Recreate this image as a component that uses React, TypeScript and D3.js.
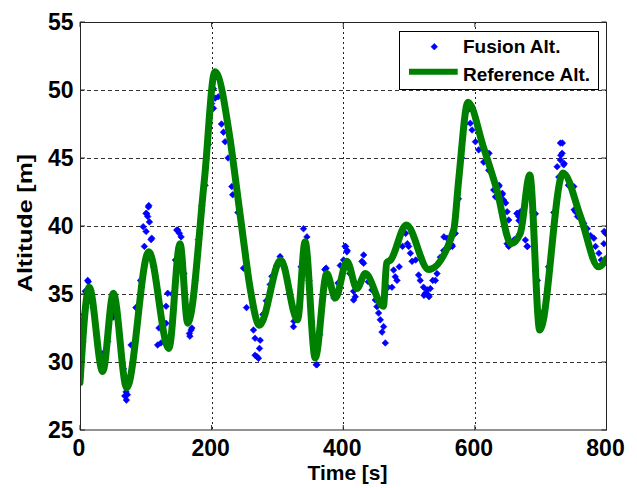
import React from "react";
import * as d3 from "d3";

const xTicks = [0, 200, 400, 600, 800];
const yTicks = [25, 30, 35, 40, 45, 50, 55];

// Reference altitude (time s, altitude m)
const refTime = [0, 14, 34.5, 50.7, 71, 104.5, 135, 152, 163.7, 189, 205, 228, 238, 248, 258.6, 272.7, 305, 330.5, 342, 357.4, 375, 388, 405.6, 420.8, 433.5, 461, 466, 472, 495.8, 529.8, 567.8, 575.4, 589.6, 613, 633.7, 655, 669, 683.4, 698.6, 734, 760.5, 788, 800];
const refAlt = [28.5, 35.5, 29.3, 35.05, 28.1, 38.1, 31.0, 38.7, 32.85, 43.4, 51.35, 46.4, 42.8, 39.1, 35.4, 32.7, 37.5, 33.1, 38.85, 30.3, 36.5, 34.7, 37.4, 35.4, 36.5, 34.1, 37.3, 37.5, 40.07, 36.8, 39.7, 43.4, 49.1, 45.8, 42.6, 38.7, 39.46, 43.75, 32.35, 43.9, 40.7, 37.0, 37.6];

// Fusion altitude samples (time s, altitude m)
const fusionTime = [0, 2.5, 4, 6, 8, 11.7, 12.7, 16, 20, 25, 30, 34.5, 37, 42, 46, 49.7, 50.5, 48, 55, 60, 66, 70, 70.5, 68, 72, 77.6, 85, 92, 96, 97.8, 100.4, 101.4, 102.9, 104, 105.5, 100.4, 104.5, 108, 109, 112, 118, 123, 120, 130.8, 130.8, 133.3, 140, 145, 147, 148.6, 151, 153.6, 158, 166.3, 168.8, 167, 170, 175, 180, 185, 190, 195, 200, 202.8, 205.3, 202.8, 210, 215, 218, 220.5, 225, 230.7, 232, 240, 248.4, 253, 263.6, 266, 273.8, 272.7, 268.7, 271.2, 266, 278, 283, 289, 291.5, 299, 304, 310, 318, 324.4, 325, 332, 336, 339.6, 344.8, 348, 352, 359, 360, 364, 368, 372, 374, 380, 386, 392, 395.4, 400.5, 403, 405.6, 406, 403.5, 410, 415.7, 418.3, 415.7, 422, 428.4, 431, 431, 438, 443.6, 448.7, 451.2, 453.7, 456.3, 461.3, 458.9, 463.9, 468, 474, 476.5, 479, 481.7, 485, 490, 494.8, 497.4, 499.4, 502, 504.5, 510, 514.5, 517, 522, 522.7, 524.7, 527.7, 529.7, 530.3, 532.3, 536, 540, 542.5, 547.5, 552.6, 553, 557.7, 560.8, 563, 565.3, 565.8, 570.3, 575, 580, 585, 589, 593, 595.7, 600.8, 605.8, 613.4, 618.5, 621, 621.6, 628.6, 631.2, 636.2, 636.8, 641.4, 641.8, 643.8, 646.8, 649, 651.4, 649, 651.4, 660, 664, 664.6, 666.5, 667, 669, 676.8, 679.4, 680, 684, 688, 692, 695, 702, 705, 712, 720, 725, 727.5, 730, 733, 732.6, 730, 730.5, 735, 735.6, 742, 750.3, 750.9, 752.9, 755.9, 758, 765.5, 770.6, 775.7, 780.8, 783.3, 788.4, 792, 796, 796.5, 798.5];
const fusionAlt = [28.9, 32.9, 31.5, 33.5, 35.2, 36.0, 35.9, 35.3, 34.0, 32.0, 30.2, 30.6, 29.8, 31.5, 33.5, 33.6, 33.3, 33.8, 34.0, 32.0, 29.5, 27.8, 27.2, 27.5, 27.6, 31.25, 34.0, 36.0, 39.95, 38.5, 40.93, 40.9, 40.7, 41.4, 40.3, 39.6, 41.5, 39.0, 39.1, 37.0, 31.25, 31.4, 32.5, 32.85, 34.1, 35.05, 35.0, 37.5, 39.7, 39.7, 39.46, 39.2, 36.5, 32.1, 32.35, 31.9, 32.5, 36.0, 39.0, 41.5, 43.0, 46.0, 49.0, 50.1, 49.4, 48.65, 49.5, 47.5, 46.9, 46.2, 45.0, 42.9, 42.3, 41.0, 36.9, 34.0, 32.35, 31.75, 31.6, 31.0, 30.4, 30.27, 30.5, 33.5, 34.5, 35.7, 36.3, 37.1, 37.75, 37.0, 35.0, 32.6, 33.0, 34.0, 37.0, 39.8, 39.2, 36.0, 33.0, 29.8, 29.8, 32.0, 34.5, 36.8, 36.9, 35.8, 34.7, 35.8, 37.1, 37.5, 38.5, 38.1, 38.2, 38.5, 36.5, 35.2, 34.8, 34.56, 35.6, 37.4, 37.87, 37.26, 35.9, 35.3, 34.56, 34.07, 33.6, 33.1, 32.6, 32.2, 31.4, 35.5, 35.5, 36.76, 36.27, 36.0, 37.0, 38.5, 39.46, 38.7, 38.5, 38.0, 37.4, 37.5, 36.4, 36.0, 35.5, 34.9, 35.05, 35.3, 34.9, 34.8, 35.4, 36.0, 36.0, 36.5, 37.7, 38.2, 39.2, 39.1, 38.6, 38.5, 38.6, 38.5, 39.46, 42.0, 45.0, 47.5, 48.5, 47.55, 47.06, 46.2, 45.6, 44.7, 45.2, 44.1, 45.35, 42.65, 42.15, 42.9, 43.0, 42.3, 42.4, 41.9, 41.7, 41.05, 40.44, 38.7, 38.5, 39.0, 40.93, 40.9, 40.7, 40.4, 41.05, 38.97, 38.5, 38.5, 43.0, 41.0, 40.9, 36.0, 33.6, 33.3, 37.0, 41.0, 44.36, 43.6, 46.1, 46.1, 45.35, 44.85, 45.2, 44.5, 44.6, 43.0, 42.9, 41.2, 41.05, 40.7, 40.7, 40.2, 39.8, 39.3, 39.1, 38.5, 38.0, 37.5, 38.7, 39.6, 39.46];

const seriesNames = ["Fusion Alt.", "Reference Alt."];

const W = 637;
const H = 488;
const left = 80;
const right = 606.5;
const top = 22;
const bottom = 430;
const FONT = "'Liberation Sans', Arial, sans-serif";

function diamond(cx: number, cy: number, r: number) {
  return `M${cx},${cy - r}L${cx + r},${cy}L${cx},${cy + r}L${cx - r},${cy}Z`;
}

export default function App() {
  const x = d3.scaleLinear().domain([0, 800]).range([left, right]);
  const y = d3.scaleLinear().domain([25, 55]).range([bottom, top]);

  const refData = refTime.map((t, i) => [t, refAlt[i]] as [number, number]);
  const fusionData = fusionTime.map((t, i) => [t, fusionAlt[i]] as [number, number]);

  const line = d3
    .line<[number, number]>()
    .x((d) => x(d[0]))
    .y((d) => y(d[1]))
    .curve(d3.curveMonotoneX);

  const blue = "#0000ff";
  const green = "#008000";

  return (
    <svg
      width={W}
      height={H}
      style={{ position: "absolute", left: 0, top: 0, background: "#fff" }}
      fontFamily={FONT}
    >
      <defs>
        <clipPath id="plotclip">
          <rect x={left} y={top} width={right - left} height={bottom - top} />
        </clipPath>
      </defs>
      <rect x={0} y={0} width={W} height={H} fill="#fff" />
      <rect x={left} y={top} width={right - left} height={bottom - top} fill="#fff" />

      {/* grid */}
      {yTicks.slice(1, -1).map((v) => (
        <line
          key={"gy" + v}
          x1={left}
          x2={right}
          y1={Math.round(y(v)) + 0.5}
          y2={Math.round(y(v)) + 0.5}
          stroke="#333"
          strokeWidth={1}
          strokeDasharray="4,3"
        />
      ))}
      {xTicks.slice(1, -1).map((v) => (
        <line
          key={"gx" + v}
          x1={Math.round(x(v)) + 0.5}
          x2={Math.round(x(v)) + 0.5}
          y1={top}
          y2={bottom}
          stroke="#222"
          strokeWidth={1}
          strokeDasharray="2,3"
        />
      ))}

      {/* data */}
      <g clipPath="url(#plotclip)">
        {fusionData.map((d, i) => (
          <path key={"f" + i} d={diamond(x(d[0]), y(d[1]), 3.3)} fill={blue} stroke={blue} strokeWidth={0.6} />
        ))}
        <path d={line(refData) || ""} fill="none" stroke={green} strokeWidth={7} strokeLinejoin="round" strokeLinecap="round" />
      </g>

      {/* axes box */}
      <rect x={left + 0.5} y={top + 0.5} width={right - left - 0.5} height={bottom - top - 0.5} fill="none" stroke="#262626" strokeWidth={1} />

      {/* ticks */}
      {xTicks.map((v) => (
        <g key={"tx" + v}>
          <line x1={x(v)} x2={x(v)} y1={bottom} y2={bottom - 5} stroke="#262626" />
          <line x1={x(v)} x2={x(v)} y1={top} y2={top + 5} stroke="#262626" />
          <text x={x(v) - 1} y={455.5} textAnchor="middle" fontSize={23} fontWeight="bold" fill="#000">
            {v}
          </text>
        </g>
      ))}
      {yTicks.map((v) => (
        <g key={"ty" + v}>
          <line x1={left} x2={left + 5} y1={y(v)} y2={y(v)} stroke="#262626" />
          <line x1={right} x2={right - 5} y1={y(v)} y2={y(v)} stroke="#262626" />
          <text x={73.5} y={y(v) + 8} textAnchor="end" fontSize={23} fontWeight="bold" fill="#000">
            {v}
          </text>
        </g>
      ))}

      {/* axis labels */}
      <text x={347.5} y={479.5} textAnchor="middle" fontSize={21} fontWeight="bold" fill="#000" textLength={80} lengthAdjust="spacingAndGlyphs">
        Time [s]
      </text>
      <text
        transform="translate(32,223) rotate(-90)"
        x={0}
        y={0}
        textAnchor="middle"
        fontSize={21}
        fontWeight="bold"
        fill="#000"
        textLength={138}
        lengthAdjust="spacingAndGlyphs"
      >
        Altitude [m]
      </text>

      {/* legend */}
      <rect x={399.5} y={31.5} width={199} height={58} fill="#fff" stroke="#000" strokeWidth={1} />
      <path d={diamond(434.3, 46.7, 3.3)} fill={blue} stroke={blue} strokeWidth={0.6} />
      <text x={463} y={53} fontSize={19} fontWeight="bold" fill="#000">
        {seriesNames[0]}
      </text>
      <line x1={409} x2={457.7} y1={71.7} y2={71.7} stroke={green} strokeWidth={6} />
      <text x={463} y={80.7} fontSize={19} fontWeight="bold" fill="#000">
        {seriesNames[1]}
      </text>
    </svg>
  );
}
